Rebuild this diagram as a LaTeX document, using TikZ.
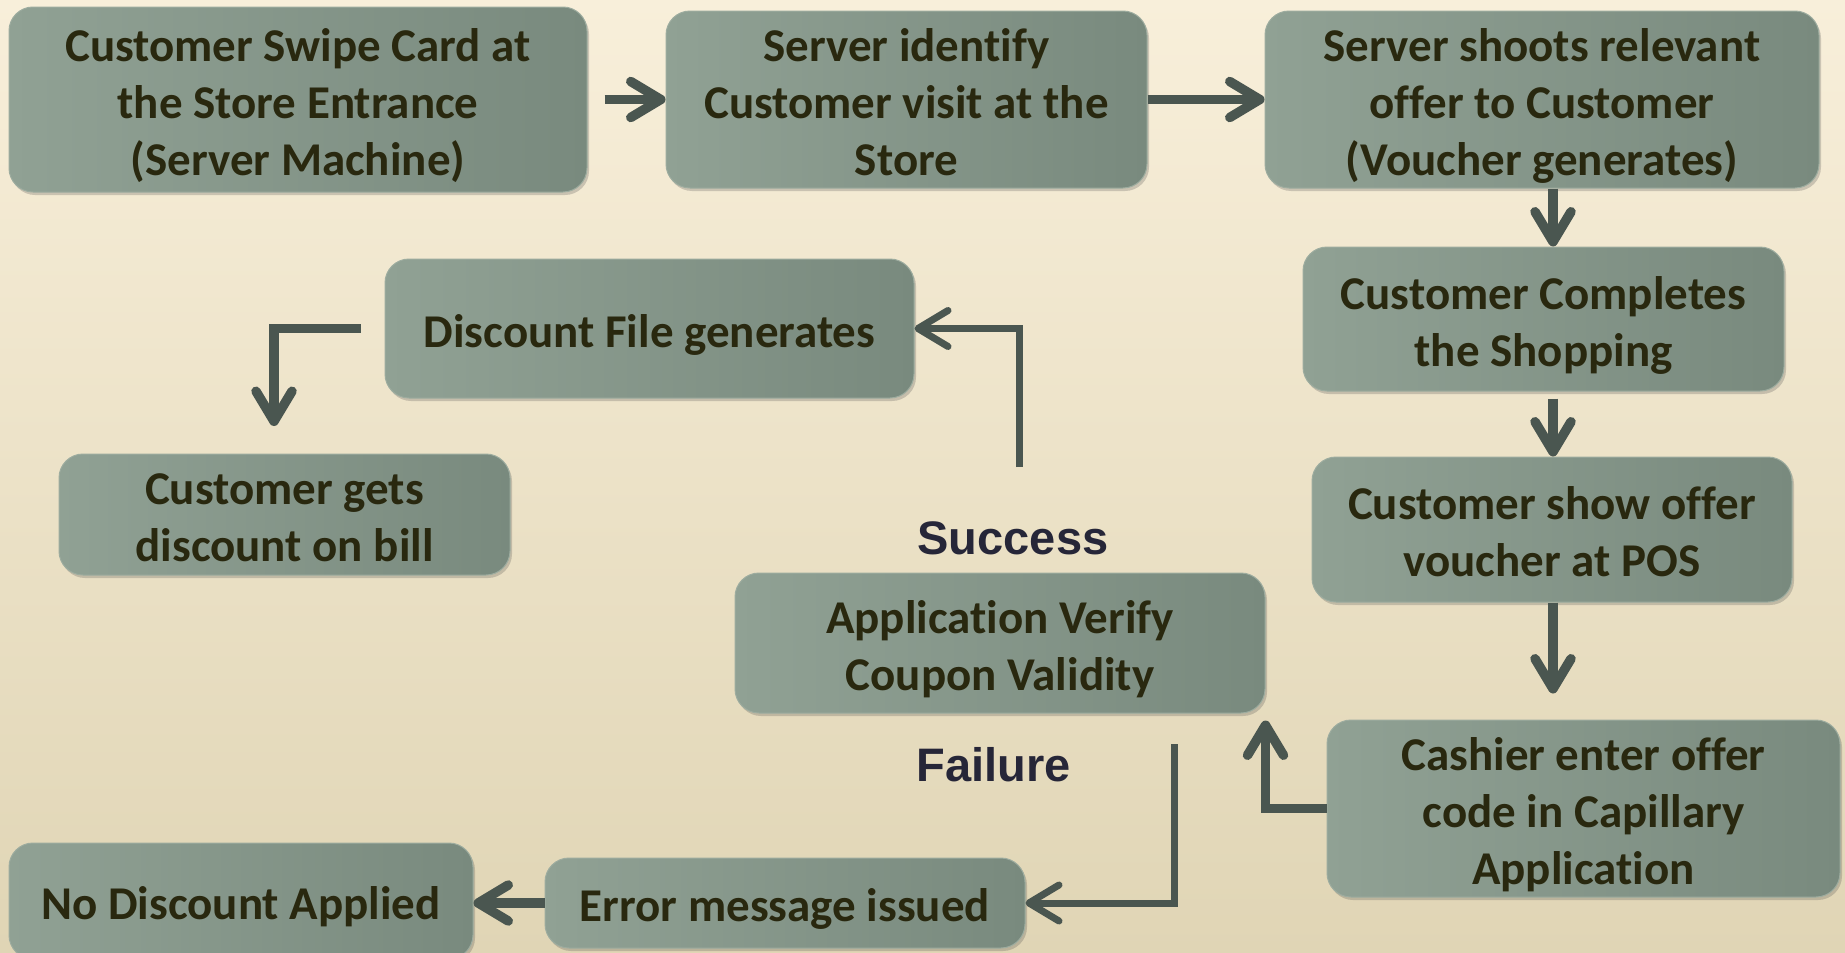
\documentclass[tikz,border=0pt]{standalone}
\usepackage{fontspec}
\setmainfont{Carlito}[Ligatures={NoCommon,NoContextual}]
\newfontfamily\labfont{Liberation Sans}
\usetikzlibrary{arrows.meta,shadows}
\definecolor{bgtop}{HTML}{F8EFDA}
\definecolor{bgbot}{HTML}{E0D5B5}
\definecolor{boxl}{HTML}{90A194}
\definecolor{boxr}{HTML}{798A7E}
\definecolor{boxedge}{HTML}{9DAC9F}
\definecolor{txt}{HTML}{29280F}
\definecolor{arrc}{HTML}{4A5650}
\definecolor{labc}{HTML}{262638}
\newcommand{\bt}[1]{\raisebox{-7.5pt}[\height][\depth]{\begin{tabular}{@{}c@{}}#1\end{tabular}}}
\tikzset{
  box/.style={rounded corners=24pt, left color=boxl, right color=boxr,
    draw=boxedge, line width=1pt, inner sep=0pt, align=center,
    text=txt, font=\fontsize{47}{57}\selectfont\bfseries,
    drop shadow={shadow xshift=2pt, shadow yshift=-3pt, opacity=0.25, fill=black!70}},
  arr/.style={draw=arrc, line width=9.5pt,
    -{Straight Barb[length=30pt,width=36pt,line cap=round,line join=round]}},
  thinarr/.style={arr, line width=7pt},
  lab/.style={text=labc, font=\labfont\fontsize{47}{56}\selectfont\bfseries}
}
\begin{document}
\begin{tikzpicture}[x=1pt,y=-1pt]
\useasboundingbox (0,0) rectangle (1845,953);
\clip (0,0) rectangle (1845,953);
\fill[top color=bgtop, bottom color=bgbot] (0,0) rectangle (1845,953);

\node[box, minimum width=578pt, minimum height=185pt] (b1) at (298,99.5)
  {\bt{Customer Swipe Card at\\the Store Entrance\\(Server Machine)}};
\node[box, minimum width=481pt, minimum height=177pt] (b2) at (906.5,99.5)
  {\bt{Server identify\\Customer visit at the\\Store}};
\node[box, minimum width=554pt, minimum height=177pt] (b3) at (1542,99.5)
  {\bt{Server shoots relevant\\offer to Customer\\(Voucher generates)}};
\node[box, minimum width=481pt, minimum height=144pt] (b4) at (1543.5,319)
  {\bt{Customer Completes\\the Shopping}};
\node[box, minimum width=480pt, minimum height=145pt] (b5) at (1552,529.5)
  {\bt{Customer show offer\\voucher at POS}};
\node[box, minimum width=513pt, minimum height=177pt] (b6) at (1583.5,808.5)
  {\bt{Cashier enter offer\\code in Capillary\\Application}};
\node[box, minimum width=530pt, minimum height=140pt] (b7) at (1000,643)
  {\bt{Application Verify\\Coupon Validity}};
\node[box, minimum width=529pt, minimum height=139pt] (b8) at (649.5,328.5)
  {\bt{Discount File generates}};
\node[box, minimum width=451pt, minimum height=121pt] (b9) at (284.5,514.5)
  {\bt{Customer gets\\discount on bill}};
\node[box, minimum width=480pt, minimum height=90pt] (b10) at (785,903)
  {\bt{Error message issued}};
\node[box, minimum width=464pt, minimum height=116pt] (b11) at (241,901)
  {\bt{No Discount Applied}};

\node[lab] (ls) at (1013,538) {Success};
\node[lab] (lf) at (994,765) {Failure};

\coordinate (s0) at (1019,467);
\coordinate (c9) at (274,426);
\coordinate (f0) at (1174,744);

\draw[arr, shorten <=17pt] (b1.east) -- (b2.west);
\draw[arr] (b2.east) -- (b3.west);
\draw[arr] ([xshift=11pt]b3.south) -- ([xshift=11pt]b3.south |- b4.north);
\draw[arr] ([xshift=9.5pt,yshift=-7pt]b4.south) -- ([xshift=9.5pt]b4.south |- b5.north);
\draw[arr, shorten >=26pt] ([xshift=1pt]b5.south) -- ([xshift=1pt]b5.south |- b6.north);
\draw[arr] (b6.west) -| ([yshift=-7pt]b7.south east);
\draw[thinarr] (s0) |- (b8.east);
\draw[arr, shorten <=24pt] (b8.west) -| (c9);
\draw[thinarr] (f0) |- (b10.east);
\draw[arr] (b10.west) -- (b10.west -| b11.east);
\end{tikzpicture}
\end{document}
